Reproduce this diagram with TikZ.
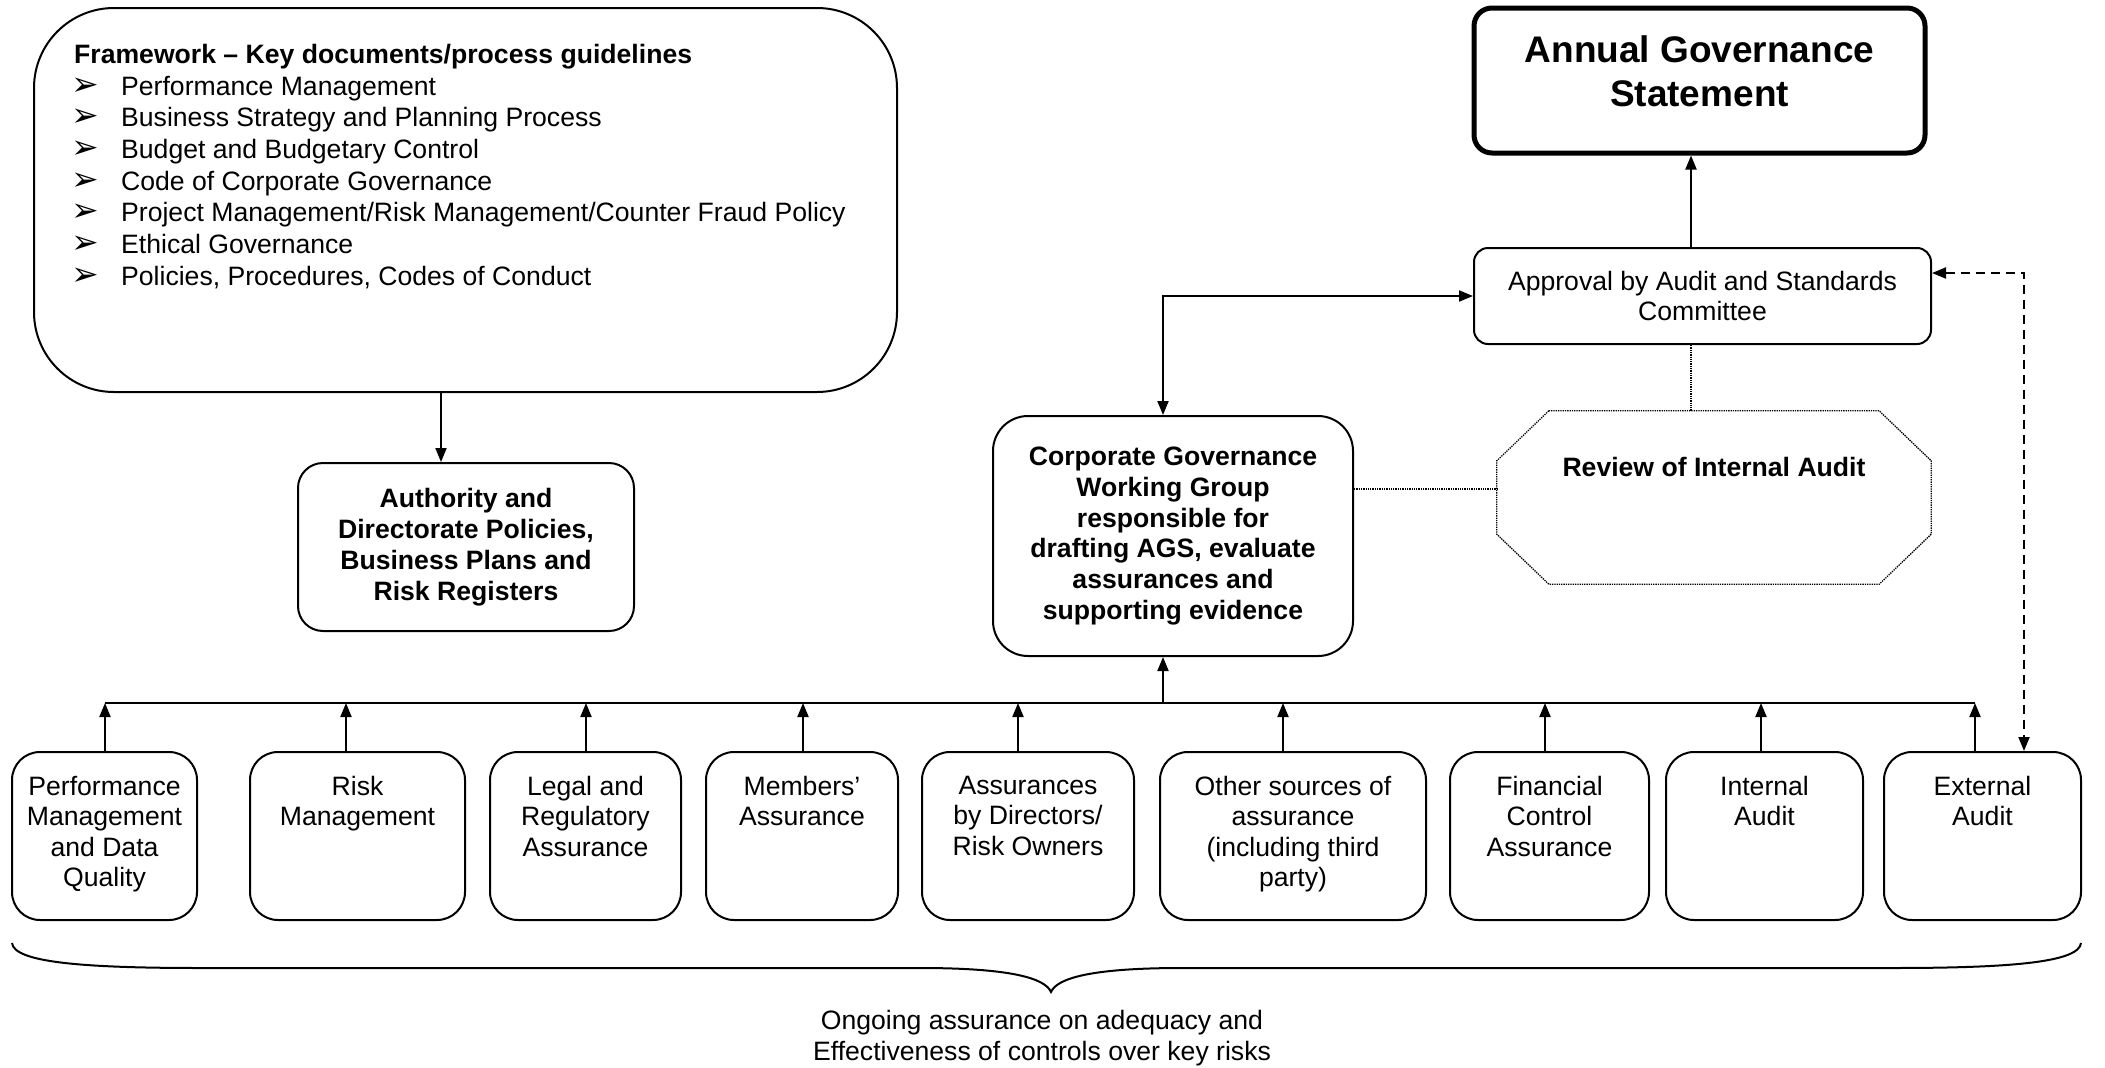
\documentclass[tikz,border=0pt]{standalone}
\usepackage{fontspec}
\setmainfont{Liberation Sans}
\newfontfamily\dejavu{DejaVu Sans}
\usetikzlibrary{arrows.meta,calc}
\newcommand\topbox[4]{\parbox[c][#2][t]{#1}{\centering\vspace*{#3}#4\par}}
\newcommand\bul{\hspace*{-3pt}\makebox[50pt][l]{\dejavu\fontsize{33pt}{33pt}\selectfont ➢}}
\begin{document}
\begin{tikzpicture}[x=1pt,y=-1pt,
  txt/.style={font=\fontsize{26.6pt}{31.7pt}\selectfont},
  btxt/.style={font=\fontsize{26.6pt}{30.8pt}\selectfont\bfseries},
  bx/.style={draw, line width=2pt, inner sep=0pt},
  lowbox/.style={bx, rounded corners=28pt, font=\fontsize{26.6pt}{30.5pt}\selectfont},
  arr/.style={line width=2pt, -{Triangle[length=14pt,width=11pt]}},
  dblarr/.style={line width=2pt, {Triangle[length=14pt,width=11pt]}-{Triangle[length=14pt,width=11pt]}},
  dashl/.style={line width=2pt, dash pattern=on 9pt off 6pt, {Triangle[length=14pt,width=11pt]}-{Triangle[length=14pt,width=11pt]}},
  dotl/.style={line width=1.3pt, densely dotted}]
\path[use as bounding box] (0,0) rectangle (2105,1068);

% Framework box
\node[bx, rounded corners=80pt, minimum width=863pt, minimum height=384pt] (fw) at (465.5,200) {};
\node[txt, anchor=north west, inner sep=0pt, align=left] (fwt) at (74,44)
 {\textbf{Framework – Key documents/process guidelines}\\
  \bul Performance Management\\
  \bul Business Strategy and Planning Process\\
  \bul Budget and Budgetary Control\\
  \bul Code of Corporate Governance\\
  \bul Project Management/Risk Management/Counter Fraud Policy\\
  \bul Ethical Governance\\
  \bul Policies, Procedures, Codes of Conduct};

% Authority box
\node[bx, btxt, rounded corners=25pt, minimum width=336pt, minimum height=168pt, align=center] (auth) at (466,547)
 {Authority and\\Directorate Policies,\\Business Plans and\\Risk Registers};

% Corporate governance working group
\node[bx, btxt, rounded corners=35pt, minimum width=360pt, minimum height=240pt, align=center] (cg) at (1173,536)
 {Corporate Governance\\Working Group\\responsible for\\drafting AGS, evaluate\\assurances and\\supporting evidence};

% Approval
\node[bx, rounded corners=14pt, minimum width=457pt, minimum height=96pt, align=center,
      font=\fontsize{26.6pt}{30pt}\selectfont] (ap) at (1702.5,296)
 {Approval by Audit and Standards\\Committee};

% Annual Governance Statement
\node[bx, line width=5pt, rounded corners=18pt, font=\fontsize{37pt}{44pt}\selectfont\bfseries] (ags) at (1699.5,80.5)
 {\topbox{451pt}{145pt}{28pt}{Annual Governance\\Statement}};

% Review of Internal Audit (octagon)
\node[inner sep=0pt, btxt] (rev) at (1714,497.5) {\topbox{434pt}{173pt}{46pt}{Review of Internal Audit}};
\draw[dotl] ($(rev.north west)+(52,0)$) -- ($(rev.north east)+(-52,0)$) -- ($(rev.north east)+(0,50)$)
  -- ($(rev.south east)+(0,-50)$) -- ($(rev.south east)+(-52,0)$) -- ($(rev.south west)+(52,0)$)
  -- ($(rev.south west)+(0,-50)$) -- ($(rev.north west)+(0,50)$) -- cycle;

% Bottom boxes
\node[lowbox] (b1) at (104.5,836) {\topbox{185pt}{168pt}{24pt}{Performance\\Management\\and Data\\Quality}};
\node[lowbox] (b2) at (357.5,836) {\topbox{215pt}{168pt}{24pt}{Risk\\Management}};
\node[lowbox] (b3) at (585.5,836) {\topbox{191pt}{168pt}{24pt}{Legal and\\Regulatory\\Assurance}};
\node[lowbox] (b4) at (802,836) {\topbox{192pt}{168pt}{24pt}{Members’\\Assurance}};
\node[lowbox] (b5) at (1028,836) {\topbox{212pt}{168pt}{24pt}{Assurances\\by Directors/\\Risk Owners}};
\node[lowbox] (b6) at (1293,836) {\topbox{266pt}{168pt}{24pt}{Other sources of\\assurance\\(including third\\party)}};
\node[lowbox] (b7) at (1549.5,836) {\topbox{199pt}{168pt}{24pt}{Financial\\Control\\Assurance}};
\node[lowbox] (b8) at (1764.5,836) {\topbox{197pt}{168pt}{24pt}{Internal\\Audit}};
\node[lowbox] (b9) at (1982.5,836) {\topbox{197pt}{168pt}{24pt}{External\\Audit}};

% Coordinates
\coordinate (bus) at (0,703);
\coordinate (cgx) at (1163,0);
\coordinate (agx) at (1691,0);
\coordinate (fwx) at (441,0);
\coordinate (dsh) at (2024,273);
\coordinate (dly) at (0,489);

% Connectors
\draw[arr] (fwx |- fw.south) -- (fwx |- auth.north);
\draw[arr] (agx |- ap.north) -- (agx |- ags.south);
\draw[dblarr] (cgx |- cg.north) |- (ap.west);
\draw[dotl] (agx |- ap.south) -- (agx |- rev.north);
\draw[dotl] (cg.east |- dly) -- (rev.west |- dly);
\draw[dashl] (ap.east |- dsh) -| (dsh |- b9.north);
\draw[line width=2pt] (105,703) -- (1975,703);
\draw[arr] (cgx |- bus) -- (cgx |- cg.south);
\foreach \b/\x in {b1/105,b2/346,b3/586,b4/803,b5/1018,b6/1283,b7/1545,b8/1761,b9/1975}
  \draw[arr] (\x,0 |- \b.north) -- (\x,703);

% Brace
\draw[line width=2pt] (12,943) .. controls (14,962) and (80,968) .. (200,968) -- (920,968)
  .. controls (1010,968) and (1045,978) .. (1051,992)
  .. controls (1057,978) and (1092,968) .. (1182,968) -- (1893,968)
  .. controls (2013,968) and (2079,962) .. (2081,943);
\node[txt, align=center, font=\fontsize{26.6pt}{30.5pt}\selectfont] (ongo) at (1042,1038)
 {Ongoing assurance on adequacy and\\Effectiveness of controls over key risks};
\end{tikzpicture}
\end{document}
